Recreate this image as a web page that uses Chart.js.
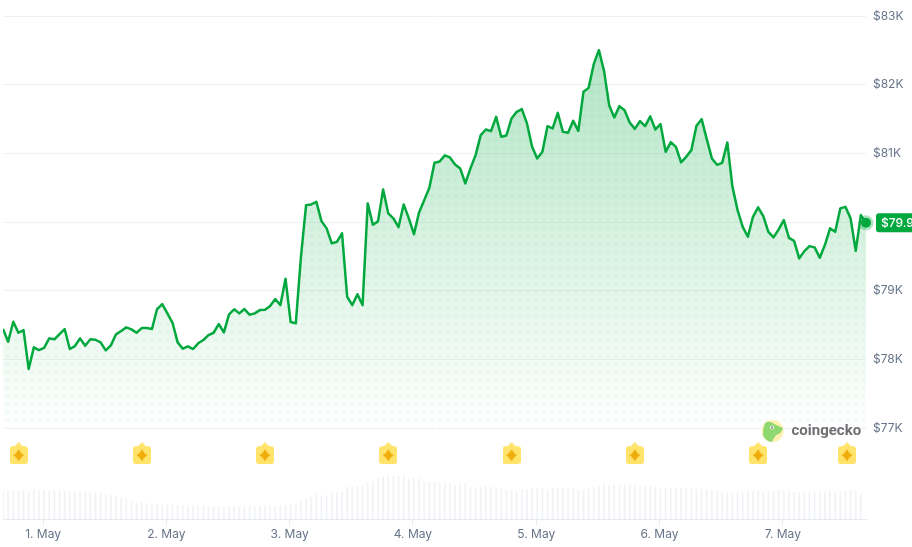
<!DOCTYPE html>
<html>
<head>
<meta charset="utf-8">
<title>Bitcoin price, 7 days</title>
<script src="https://cdn.jsdelivr.net/npm/chart.js@4/dist/chart.umd.min.js"></script>
<style>
  html, body { margin: 0; padding: 0; background: #fff; }
  canvas { display: block; }
</style>
</head>
<body>
<canvas id="priceChart" width="912" height="547"></canvas>
<script>
// ── Data ──
const prices = [
  78443, 78258, 78549, 78389, 78428, 77860, 78176, 78137, 78170, 78307, 78293, 78370, 78443,
  78152, 78195, 78307, 78200, 78293, 78287, 78249, 78133, 78205, 78366, 78414, 78467, 78438,
  78389, 78457, 78457, 78443, 78734, 78807, 78671, 78534, 78249, 78156, 78191, 78152, 78235,
  78283, 78355, 78389, 78516, 78395, 78657, 78730, 78671, 78734, 78651, 78671, 78719, 78723,
  78778, 78880, 78792, 79175, 78545, 78526, 79495, 80248, 80258, 80296, 80015, 79909, 79691,
  79714, 79836, 78913, 78792, 78948, 78792, 80273, 79961, 80011, 80477, 80127, 80055, 79928,
  80258, 80055, 79826, 80142, 80321, 80500, 80864, 80884, 80972, 80943, 80841, 80783, 80564,
  80783, 80976, 81267, 81350, 81326, 81534, 81243, 81263, 81511, 81607, 81646, 81438, 81097,
  80928, 81024, 81398, 81365, 81592, 81315, 81301, 81476, 81330, 81898, 81956, 82301, 82505,
  82204, 81704, 81525, 81690, 81631, 81452, 81359, 81471, 81398, 81540, 81350, 81428, 81024,
  81165, 81097, 80870, 80951, 81049, 81403, 81500, 81209, 80928, 80835, 80864, 81161, 80515,
  80175, 79932, 79787, 80078, 80215, 80088, 79859, 79778, 79894, 80030, 79772, 79728, 79472,
  79578, 79651, 79632, 79481, 79666, 79909, 79859, 80200, 80223, 80055, 79583, 80103, 79990,
];
const volumes = [
  28, 28.3, 28.3, 28, 28.3, 28.3, 29, 29, 28.7, 28.7, 28.7, 28.7, 28,
  27.5, 27, 27, 26.7, 26.5, 26, 25.5, 25, 24, 23, 21.5, 20, 17,
  16.5, 16, 15.5, 15, 14.5, 14, 14, 14, 13.5, 13.5, 13.5, 13, 13,
  13, 12.5, 12.5, 12.5, 12.5, 12.5, 12.5, 12.5, 12.5, 13, 13, 13, 13,
  13, 13, 13, 14, 14.5, 15, 17, 20, 22, 24.3, 23.7, 23, 26.3,
  27, 27, 32, 32, 32, 33, 36, 38, 41, 42.3, 43, 43, 43,
  43, 40.3, 41, 40.3, 37, 37, 37, 36, 36, 36, 34.3, 35.3, 36,
  32, 32, 32, 33, 32, 31, 30.3, 29.3, 29.3, 28.3, 29.3, 29.3, 30.3,
  30.3, 30.3, 29.3, 30.3, 30.3, 30.3, 30.3, 30.3, 29.3, 29.3, 30.3, 32, 33,
  34.3, 33, 34.3, 33, 34.3, 34.3, 34.3, 33, 33, 33, 32, 30.3, 31,
  31, 31, 30.3, 30.3, 30.3, 29.3, 30.3, 29.3, 29.3, 28, 26.3, 26.3, 25.3,
  26.3, 27, 28, 28, 28, 28, 28, 28, 29, 28, 28, 27, 27,
  27, 27, 28, 27, 27, 28, 27, 28, 28, 29, 28, 25.3, null,
];
const firstHour = -7.8;  // hours from 1 May 00:00 to the first sample
const hours = prices.map((_, i) => firstHour + i);

const dayTicks  = [0, 24, 48, 72, 96, 120, 144];
const dayLabels = ['1. May', '2. May', '3. May', '4. May', '5. May', '6. May', '7. May'];
const priceTicks  = [77000, 78000, 79000, 80000, 81000, 82000, 83000];
const priceLabels = ['$77K', '$78K', '$79K', '', '$81K', '$82K', '$83K'];  // $80K sits under the price tag

const eventHours  = [-4.75, 19.25, 43.2, 67.2, 91.2, 115.2, 139.2, 156.5];
const eventLevels = [76635, 76635, 76635, 76635, 76635, 76635, 76635, 76635];

const lastLabel = '$79.9';
const GREEN = '#00a83e';

// ── Offscreen sprites ──
function makePin() {
  const c = document.createElement('canvas');
  c.width = 18; c.height = 22;
  const g = c.getContext('2d');
  g.fillStyle = '#ffe36a';
  g.beginPath();
  g.moveTo(9, 0);
  g.lineTo(13, 4);
  g.lineTo(15, 4);
  g.quadraticCurveTo(18, 4, 18, 7);
  g.lineTo(18, 19);
  g.quadraticCurveTo(18, 22, 15, 22);
  g.lineTo(3, 22);
  g.quadraticCurveTo(0, 22, 0, 19);
  g.lineTo(0, 7);
  g.quadraticCurveTo(0, 4, 3, 4);
  g.lineTo(5, 4);
  g.closePath();
  g.fill();
  g.fillStyle = '#efad0c';
  g.beginPath();
  g.moveTo(9, 7);
  g.quadraticCurveTo(10.8, 11.2, 14.5, 13);
  g.quadraticCurveTo(10.8, 14.8, 9, 19);
  g.quadraticCurveTo(7.2, 14.8, 3.5, 13);
  g.quadraticCurveTo(7.2, 11.2, 9, 7);
  g.fill();
  return c;
}

function makeDots() {
  const c = document.createElement('canvas');
  c.width = 8; c.height = 8;
  const g = c.getContext('2d');
  g.fillStyle = 'rgba(0,168,62,0.04)';
  [-0.7, 7.3].forEach(x => {
    g.beginPath();
    g.arc(x, 4, 2, 0, Math.PI * 2);
    g.fill();
  });
  return c.getContext('2d').createPattern(c, 'repeat');
}

// ── Area gradient ──
function areaFill(context) {
  const { chart } = context;
  if (!chart.chartArea) return 'transparent';
  const y = chart.scales.y;
  const grad = chart.ctx.createLinearGradient(0, y.getPixelForValue(82500), 0, y.getPixelForValue(77000));
  grad.addColorStop(0, 'rgba(0,168,62,0.30)');
  grad.addColorStop(1, 'rgba(0,168,62,0)');
  return grad;
}

// ── Watermark and price tag ──
const overlays = {
  id: 'overlays',
  afterDraw(chart) {
    const { ctx, scales } = chart;
    ctx.save();

    // coingecko mark
    const cx = 772.5, cy = 431;
    ctx.fillStyle = '#fdf0b0';
    ctx.beginPath();
    ctx.arc(cx, cy, 11, 0, Math.PI * 2);
    ctx.fill();
    ctx.fillStyle = '#8fd86f';
    ctx.beginPath();
    ctx.moveTo(765, 423);
    ctx.quadraticCurveTo(770, 420, 774, 424);
    ctx.lineTo(783, 428);
    ctx.quadraticCurveTo(781, 434, 776, 435);
    ctx.quadraticCurveTo(773, 439, 772, 442);
    ctx.quadraticCurveTo(765, 441, 763, 435);
    ctx.quadraticCurveTo(763, 428, 765, 423);
    ctx.fill();
    ctx.fillStyle = '#fff';
    ctx.beginPath();
    ctx.arc(772, 427.5, 2, 0, Math.PI * 2);
    ctx.fill();
    ctx.fillStyle = '#555';
    ctx.fillRect(771.5, 426, 1, 3);

    ctx.font = '700 15px Roboto';
    ctx.fillStyle = '#6e7074';
    ctx.textAlign = 'left';
    ctx.textBaseline = 'middle';
    ctx.fillText('coingecko', 791.5, 431);

    // last price tag
    const tagY = scales.y.getPixelForValue(prices[prices.length - 1]);
    ctx.fillStyle = GREEN;
    ctx.beginPath();
    ctx.roundRect(876, tagY - 9.5, 44, 19, 3);
    ctx.fill();
    ctx.font = '500 12px Inter';
    ctx.fillStyle = '#fff';
    ctx.fillText(lastLabel, 881, tagY + 0.5);

    ctx.restore();
  },
};

// ── Chart ──
function renderChart() {
  const ctx = document.getElementById('priceChart').getContext('2d');
  const linePoints = prices.map((p, i) => ({ x: hours[i], y: p }));
  const lastIndex = prices.length - 1;
  const lastPoint = [{ x: hours[lastIndex], y: prices[lastIndex] }];

  new Chart(ctx, {
    type: 'line',
    data: {
      datasets: [
        {
          label: 'Marker',
          data: lastPoint,
          showLine: false,
          pointRadius: 5,
          pointBorderWidth: 0,
          pointBackgroundColor: GREEN,
          clip: false,
          order: 0,
        },
        {
          label: 'Halo',
          data: lastPoint,
          showLine: false,
          pointRadius: 7.5,
          pointBorderWidth: 0,
          pointBackgroundColor: 'rgba(0,168,62,0.3)',
          clip: false,
          order: 1,
        },
        {
          label: 'Events',
          data: eventHours.map((h, i) => ({ x: h, y: eventLevels[i] })),
          showLine: false,
          pointStyle: makePin(),
          order: 2,
        },
        {
          label: 'Price',
          data: linePoints,
          borderColor: GREEN,
          borderWidth: 2.5,
          borderJoinStyle: 'round',
          pointRadius: 0,
          tension: 0,
          backgroundColor: areaFill,
          fill: { value: 77000 },
          order: 3,
        },
        {
          label: 'Dots',
          data: linePoints,
          borderWidth: 0,
          pointRadius: 0,
          tension: 0,
          backgroundColor: makeDots(),
          fill: { value: 77000 },
          order: 4,
        },
        {
          type: 'bar',
          label: 'Volume',
          data: volumes.map((v, i) => ({ x: hours[i], y: v })),
          yAxisID: 'yVol',
          backgroundColor: '#f0f2f5',
          barThickness: 1,
          order: 5,
        },
      ],
    },
    options: {
      responsive: false,
      animation: false,
      layout: { autoPadding: false, padding: { left: 3, top: 0, right: 0, bottom: 0 } },
      plugins: { legend: { display: false }, tooltip: { enabled: false } },
      scales: {
        x: {
          type: 'linear',
          min: firstHour,
          max: hours[lastIndex],
          offset: false,
          afterBuildTicks: s => { s.ticks = dayTicks.map(v => ({ value: v })); },
          afterFit: s => { s.height = 28; },
          ticks: {
            autoSkip: false,
            maxRotation: 0,
            padding: 2,
            color: '#67748a',
            font: { family: 'Inter', size: 12 },
            callback: v => dayLabels[dayTicks.indexOf(v)],
          },
          grid: { offset: false, drawOnChartArea: false, color: '#e6e9ef', tickLength: 6 },
          border: { color: '#e6e9ef' },
        },
        y: {
          position: 'right',
          min: 75676,
          max: 83029,
          afterBuildTicks: s => { s.ticks = priceTicks.map(v => ({ value: v })); },
          afterFit: s => { s.width = 46; },
          ticks: {
            padding: 7,
            color: '#67748a',
            font: { family: 'Inter', size: 12 },
            callback: v => priceLabels[priceTicks.indexOf(v)],
          },
          grid: { color: '#f0f1f4', drawTicks: false },
          border: { display: false },
        },
        yVol: {
          display: false,
          min: 0,
          max: 505,
        },
      },
    },
    plugins: [overlays],
  });
}

renderChart();
</script>
</body>
</html>
